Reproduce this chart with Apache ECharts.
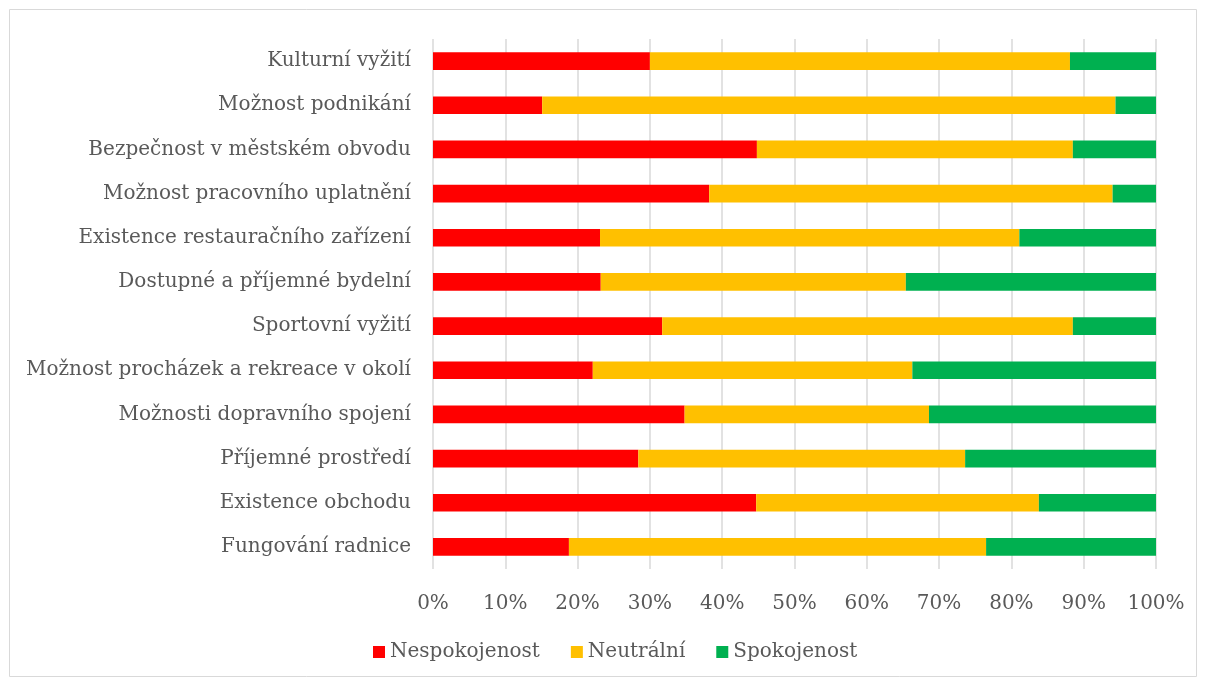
<!DOCTYPE html>
<html><head><meta charset="utf-8">
<script src="https://cdn.jsdelivr.net/npm/echarts@6/dist/echarts.min.js"></script>
<style>html,body{margin:0;padding:0;background:#fff}#c{width:1206px;height:684px}</style>
</head><body><div id="c"></div>
<script>
const categories = ["Fungování radnice","Existence obchodu","Příjemné prostředí","Možnosti dopravního spojení","Možnost procházek a rekreace v okolí","Sportovní vyžití","Dostupné a příjemné bydelní","Existence restauračního zařízení","Možnost pracovního uplatnění","Bezpečnost v městském obvodu","Možnost podnikání","Kulturní vyžití"];
const nespokojenost = [18.8,44.7,28.4,34.8,22.1,31.7,23.2,23.1,38.2,44.8,15.1,30.0];
const neutralni     = [57.7,39.1,45.2,33.8,44.2,56.8,42.2,58.0,55.8,43.7,79.3,58.1];
const spokojenost   = [23.5,16.2,26.4,31.4,33.7,11.5,34.6,18.9,6.0,11.5,5.6,11.9];
const seriesNames = ["Nespokojenost","Neutrální","Spokojenost"];
const colors = ["#FF0000","#FFC000","#00B050"];

const font = "'DejaVu Serif', serif";
const chart = echarts.init(document.getElementById('c'));
const mk = (name, data, color) => ({
  name, type:'bar', stack:'s', data, barCategoryGap:'60%',
  itemStyle:{color}, emphasis:{disabled:true}
});
chart.setOption({
  animation:false,
  textStyle:{fontFamily:font},
  graphic:[{type:'rect', shape:{x:9.5,y:9.5,width:1187,height:667}, style:{fill:'none',stroke:'#d9d9d9',lineWidth:1}, silent:true, z:-1}],
  grid:{left:433, right:50, top:39, bottom:115, containLabel:false},
  legend:{top:642, left:373, padding:0, itemWidth:12, itemHeight:12, itemGap:31, icon:'rect',
    textStyle:{fontFamily:font, fontSize:20, color:'#595959'}, data:seriesNames},
  xAxis:{type:'value', min:0, max:100, interval:10,
    axisLabel:{formatter:'{value}%', fontFamily:font, fontSize:20, color:'#595959', margin:25},
    splitLine:{lineStyle:{color:'#d9d9d9', width:1.5}},
    axisLine:{show:false}, axisTick:{show:false}},
  yAxis:{type:'category', data:categories,
    axisLabel:{fontFamily:font, fontSize:20, color:'#595959', margin:22},
    axisLine:{show:false}, axisTick:{show:false}},
  series:[mk(seriesNames[0],nespokojenost,colors[0]), mk(seriesNames[1],neutralni,colors[1]), mk(seriesNames[2],spokojenost,colors[2])]
});
</script></body></html>
